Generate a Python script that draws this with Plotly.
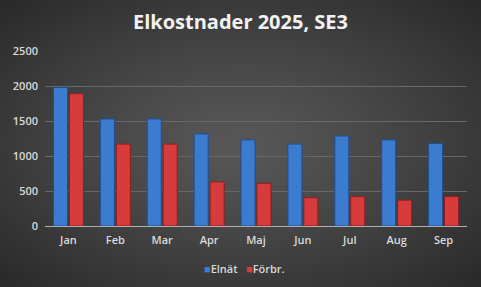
import base64
import struct
import zlib

import numpy as np
import plotly.graph_objects as go

months = ["Jan", "Feb", "Mar", "Apr", "Maj", "Jun", "Jul", "Aug", "Sep"]
elnat = [1980, 1530, 1530, 1315, 1230, 1170, 1285, 1230, 1180]
forbr = [1890, 1170, 1170, 630, 610, 405, 420, 370, 420]
y_ticks = [0, 500, 1000, 1500, 2000, 2500]
series_names = ["Elnät", "Förbr."]

BLUE = "#3b7bd0"
RED = "#d83b3b"

W_FIG, H_FIG = 481, 287
ML, MR, MT, MB = 45, 14, 51, 61


def radial_png(w, h, inner=88, outer=42):
    yy, xx = np.mgrid[0:h, 0:w]
    nx = (xx - (w - 1) / 2) / ((w - 1) / 2)
    ny = (yy - (h - 1) / 2) / ((h - 1) / 2)
    r = np.clip(np.sqrt(nx ** 2 + ny ** 2) / np.sqrt(2), 0, 1)
    v = (inner - (inner - outer) * r ** 1.2).astype(np.uint8)
    raw = b"".join(b"\x00" + bytes(np.repeat(row, 3)) for row in v)

    def chunk(tag, data):
        c = struct.pack(">I", len(data)) + tag + data
        return c + struct.pack(">I", zlib.crc32(tag + data) & 0xFFFFFFFF)

    png = b"\x89PNG\r\n\x1a\n"
    png += chunk(b"IHDR", struct.pack(">IIBBBBB", w, h, 8, 2, 0, 0, 0))
    png += chunk(b"IDAT", zlib.compress(raw, 9))
    png += chunk(b"IEND", b"")
    return "data:image/png;base64," + base64.b64encode(png).decode()


fig = go.Figure()
fig.add_trace(go.Bar(x=months, y=elnat, name=series_names[0], showlegend=False,
                     marker=dict(color=BLUE, line=dict(color="#1f4f8f", width=1))))
fig.add_trace(go.Bar(x=months, y=forbr, name=series_names[1], showlegend=False,
                     marker=dict(color=RED, line=dict(color="#8f1f1f", width=1))))

pw = W_FIG - ML - MR
ph = H_FIG - MT - MB
leg_y = -(268 - (H_FIG - MB)) / ph

legend_annots = []
for name, col, cx in zip(series_names, [BLUE, RED], [221, 265]):
    legend_annots.append(dict(
        text=f"<span style='color:{col}'>■</span>{name}",
        xref="paper", yref="paper", x=(cx - ML) / pw, y=leg_y,
        xanchor="center", yanchor="middle", showarrow=False,
        font=dict(family="Open Sans", size=11, color="#d9d9d9", weight=600)))

fig.update_layout(
    width=W_FIG, height=H_FIG,
    margin=dict(l=ML, r=MR, t=MT, b=MB, autoexpand=False),
    paper_bgcolor="#454545", plot_bgcolor="rgba(0,0,0,0)",
    title=dict(text="<b>Elkostnader 2025, SE3</b>", x=0.5, xanchor="center",
               y=1 - 22 / H_FIG, yanchor="middle",
               font=dict(family="Open Sans", size=20, color="#f2f2f2")),
    barmode="group", bargap=0.32, bargroupgap=0.12,
    font=dict(family="Open Sans", color="#d9d9d9", size=11),
    showlegend=False,
    images=[dict(source=radial_png(120, 72), xref="paper", yref="paper",
                 x=-ML / pw, y=1 + MT / ph, sizex=W_FIG / pw, sizey=H_FIG / ph,
                 xanchor="left", yanchor="top", sizing="stretch", layer="below")],
    annotations=legend_annots,
)
fig.update_xaxes(showgrid=False, showline=True, linecolor="#b0b0b0", linewidth=1,
                 ticks="", ticklabelstandoff=4,
                 tickfont=dict(size=11, color="#d9d9d9", weight=600))
fig.update_yaxes(range=[0, 2500], tickvals=y_ticks, showgrid=True,
                 gridcolor="#686868", gridwidth=1, zeroline=False,
                 showline=False, ticks="", ticklabelstandoff=6,
                 tickfont=dict(size=11, color="#d9d9d9", weight=600))

fig.write_html("out.html")
